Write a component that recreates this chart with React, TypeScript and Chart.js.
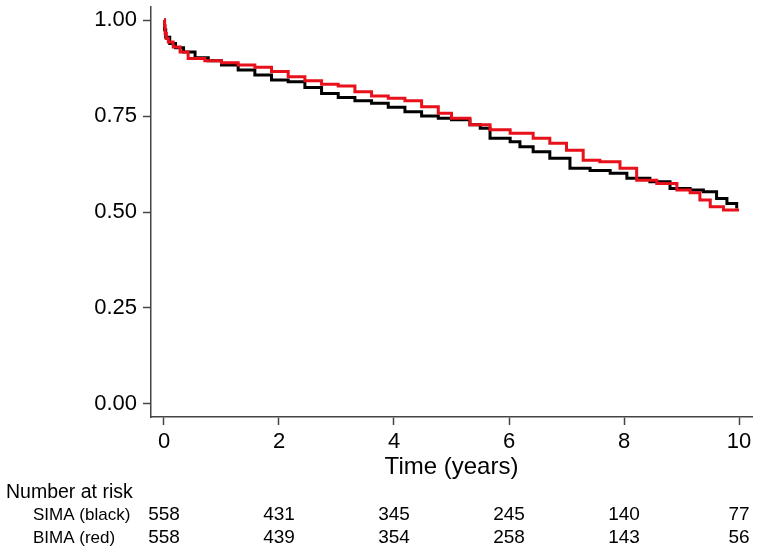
import React, { useEffect, useRef } from "react";
import { Chart, registerables } from "chart.js";

Chart.register(...registerables);

// Kaplan-Meier estimates (time in years, survival)
const simaTimes = [0, 0.01, 0.03, 0.1, 0.2, 0.34, 0.54, 0.77, 1.0, 1.29, 1.58, 1.87, 2.16, 2.45, 2.74, 3.03, 3.32, 3.61, 3.9, 4.19, 4.48, 4.77, 5.0, 5.32, 5.5, 5.67, 6.02, 6.19, 6.42, 6.71, 7.06, 7.41, 7.76, 8.05, 8.45, 8.8, 9.15, 9.38, 9.61, 9.79, 9.96];
const simaSurv = [1.0, 0.975, 0.955, 0.939, 0.928, 0.917, 0.902, 0.894, 0.883, 0.87, 0.857, 0.844, 0.839, 0.824, 0.809, 0.798, 0.79, 0.783, 0.773, 0.761, 0.75, 0.744, 0.74, 0.727, 0.718, 0.692, 0.683, 0.67, 0.657, 0.64, 0.614, 0.608, 0.601, 0.588, 0.579, 0.561, 0.557, 0.553, 0.535, 0.522, 0.509];

const bimaTimes = [0, 0.01, 0.02, 0.04, 0.075, 0.16, 0.28, 0.42, 0.71, 1.0, 1.29, 1.58, 1.87, 2.16, 2.45, 2.74, 3.03, 3.32, 3.61, 3.9, 4.19, 4.48, 4.77, 5.0, 5.32, 5.67, 6.02, 6.42, 6.71, 7.0, 7.29, 7.58, 7.93, 8.22, 8.57, 8.92, 9.15, 9.32, 9.5, 9.73, 10.0];
const bimaSurv = [1.0, 0.985, 0.965, 0.952, 0.943, 0.93, 0.917, 0.9, 0.894, 0.889, 0.883, 0.877, 0.866, 0.852, 0.842, 0.833, 0.828, 0.813, 0.802, 0.796, 0.79, 0.774, 0.757, 0.744, 0.727, 0.714, 0.705, 0.692, 0.679, 0.661, 0.635, 0.631, 0.614, 0.583, 0.574, 0.557, 0.55, 0.531, 0.514, 0.505, 0.505];

const xTicks = [0, 2, 4, 6, 8, 10];
const yTicks = [0, 0.25, 0.5, 0.75, 1.0];
const riskTimes = [0, 2, 4, 6, 8, 10];
const simaRisk = [558, 431, 345, 245, 140, 77];
const bimaRisk = [558, 439, 354, 258, 143, 56];
const rowLabels = ["SIMA (black)", "BIMA (red)"];
const xTitle = "Time (years)";
const riskTitle = "Number at risk";

const FONT = "'Liberation Sans', Arial, Helvetica, sans-serif";

const riskPlugin = {
  id: "riskTable",
  afterDraw(chart: any) {
    const ctx = chart.ctx;
    const xs = chart.scales.x;
    ctx.save();
    ctx.fillStyle = "#000";
    ctx.textBaseline = "middle";
    // axis title
    ctx.font = `24px ${FONT}`;
    ctx.textAlign = "center";
    ctx.fillText(xTitle, (xs.getPixelForValue(0) + xs.getPixelForValue(10)) / 2, 467);
    // risk table
    ctx.font = `19.5px ${FONT}`;
    ctx.textAlign = "left";
    ctx.fillText(riskTitle, 6, 493);
    ctx.font = `17px ${FONT}`;
    ctx.fillText(rowLabels[0], 33, 515);
    ctx.fillText(rowLabels[1], 33, 538);
    ctx.font = `19px ${FONT}`;
    ctx.textAlign = "center";
    riskTimes.forEach((t, i) => {
      const px = xs.getPixelForValue(t);
      ctx.fillText(String(simaRisk[i]), px, 515);
      ctx.fillText(String(bimaRisk[i]), px, 538);
    });
    ctx.restore();
  },
};

export default function App() {
  const ref = useRef<HTMLCanvasElement | null>(null);
  useEffect(() => {
    if (!ref.current) return;
    const chart = new Chart(ref.current, {
      type: "line",
      data: {
        datasets: [
          {
            label: "BIMA (red)",
            data: bimaTimes.map((t, i) => ({ x: t, y: bimaSurv[i] })),
            borderColor: "#e8101a",
            borderWidth: 3,
            pointRadius: 0,
            stepped: true,
            fill: false,
            order: 0,
          },
          {
            label: "SIMA (black)",
            data: simaTimes.map((t, i) => ({ x: t, y: simaSurv[i] })),
            borderColor: "#000000",
            borderWidth: 3,
            pointRadius: 0,
            stepped: true,
            fill: false,
            order: 1,
          },
        ],
      },
      options: {
        animation: false,
        responsive: false,
        maintainAspectRatio: false,
        layout: { padding: { left: 0, right: 7, top: 7, bottom: 0 } },
        plugins: { legend: { display: false }, tooltip: { enabled: false } },
        scales: {
          x: {
            type: "linear",
            min: -0.226,
            max: 10.226,
            afterBuildTicks: (s: any) => {
              s.ticks = xTicks.map((v) => ({ value: v }));
            },
            afterFit: (s: any) => {
              s.height = 137;
              s.paddingLeft = 0;
              s.paddingRight = 0;
            },
            grid: {
              drawOnChartArea: false,
              drawTicks: true,
              tickLength: 8,
              tickWidth: 1.5,
              color: "#444",
            },
            border: { display: true, color: "#444", width: 1.5 },
            ticks: {
              padding: 4,
              color: "#000",
              font: { family: FONT, size: 22 },
              maxRotation: 0,
              callback: (v: any) => String(v),
            },
          },
          y: {
            type: "linear",
            min: -0.034,
            max: 1.034,
            afterBuildTicks: (s: any) => {
              s.ticks = yTicks.map((v) => ({ value: v }));
            },
            afterFit: (s: any) => {
              s.width = 151;
              s.paddingTop = 0;
              s.paddingBottom = 0;
            },
            grid: {
              drawOnChartArea: false,
              drawTicks: true,
              tickLength: 8,
              tickWidth: 1.5,
              color: "#444",
            },
            border: { display: true, color: "#444", width: 1.5 },
            ticks: {
              padding: 6,
              color: "#000",
              font: { family: FONT, size: 22 },
              callback: (v: any) => Number(v).toFixed(2),
            },
          },
        },
      },
      plugins: [riskPlugin],
    } as any);
    return () => chart.destroy();
  }, []);

  return (
    <div style={{ position: "absolute", left: 0, top: 0, width: 759, height: 554, background: "#fff" }}>
      <canvas ref={ref} width={759} height={554} style={{ width: 759, height: 554, display: "block" }} />
    </div>
  );
}
